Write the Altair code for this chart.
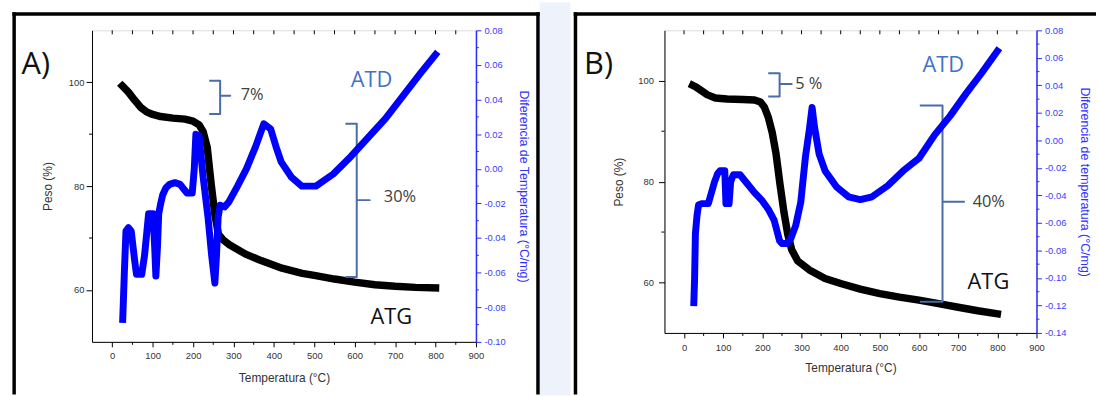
import altair as alt
import pandas as pd

# ---------------- Panel A data ----------------
a_atg_t = [25, 40, 55, 70, 85, 100, 120, 150, 180, 200, 215, 225, 235, 245, 254, 263, 275, 290, 330, 370, 420, 470, 500, 550, 600, 650, 700, 750, 800]
a_atg_w = [99.3, 98.1, 96.6, 95.2, 94.3, 93.8, 93.4, 93.1, 92.9, 92.5, 91.8, 90.5, 87.5, 80.3, 74.5, 70.7, 69.6, 68.7, 66.9, 65.6, 64.2, 63.2, 62.8, 62.1, 61.5, 61.0, 60.7, 60.5, 60.4]
a_atd_t = [26, 30, 34, 40, 47, 55, 60, 73, 80, 90, 101, 105, 108, 112, 115, 120, 125, 133, 142, 155, 168, 178, 185, 198, 203, 207, 215, 225, 237, 246, 254, 258, 262, 267, 278, 289, 310, 332, 355, 375, 392, 405, 418, 444, 469, 504, 547, 590, 633, 676, 719, 762, 800]
a_atd_d = [-0.087, -0.060, -0.036, -0.034, -0.036, -0.052, -0.061, -0.061, -0.050, -0.026, -0.026, -0.045, -0.062, -0.045, -0.026, -0.020, -0.015, -0.011, -0.009, -0.008, -0.009, -0.012, -0.014, -0.014, 0.000, 0.020, 0.019, -0.005, -0.028, -0.050, -0.066, -0.050, -0.028, -0.021, -0.022, -0.019, -0.010, 0.000, 0.013, 0.026, 0.023, 0.013, 0.004, -0.005, -0.010, -0.010, -0.003, 0.007, 0.018, 0.029, 0.042, 0.055, 0.066]

# ---------------- Panel B data ----------------
b_atg_t = [22, 30, 45, 60, 80, 110, 150, 180, 195, 205, 215, 225, 235, 245, 255, 265, 275, 290, 320, 360, 400, 450, 500, 550, 600, 650, 700, 750, 800]
b_atg_w = [99.1, 98.8, 98.0, 97.2, 96.6, 96.4, 96.3, 96.2, 95.8, 94.8, 92.8, 89.8, 85.5, 79.5, 74.0, 69.5, 66.5, 64.3, 62.5, 60.8, 59.8, 58.7, 57.8, 57.1, 56.5, 55.8, 55.1, 54.4, 53.8]
b_atd_t = [25, 27, 29, 33, 37, 45, 55, 62, 70, 78, 86, 92, 104, 107, 115, 119, 126, 143, 160, 180, 200, 215, 230, 244, 250, 262, 272, 285, 298, 310, 320, 327, 333, 345, 360, 390, 420, 450, 480, 520, 560, 600, 640, 680, 720, 760, 800]
b_atd_d = [-0.118, -0.100, -0.068, -0.055, -0.047, -0.046, -0.046, -0.046, -0.038, -0.030, -0.024, -0.022, -0.022, -0.046, -0.046, -0.030, -0.025, -0.025, -0.031, -0.038, -0.044, -0.050, -0.058, -0.073, -0.075, -0.075, -0.072, -0.062, -0.045, -0.012, 0.008, 0.024, 0.010, -0.010, -0.022, -0.034, -0.041, -0.043, -0.041, -0.033, -0.022, -0.013, 0.004, 0.018, 0.034, 0.049, 0.065]

# ---------------- Axis ticks ----------------
x_major = [0, 100, 200, 300, 400, 500, 600, 700, 800, 900]
x_minor = [50, 150, 250, 350, 450, 550, 650, 750, 850]
x_top = [0, 50, 100, 150, 200, 250, 300, 350, 400, 450, 500, 550, 600, 650, 700, 750, 800, 850]
w_major = [60, 80, 100]
w_minor = [70, 90]
a_d_major = [-0.10, -0.08, -0.06, -0.04, -0.02, 0.00, 0.02, 0.04, 0.06, 0.08]
a_d_minor = [-0.09, -0.07, -0.05, -0.03, -0.01, 0.01, 0.03, 0.05, 0.07]
b_d_major = [-0.14, -0.12, -0.10, -0.08, -0.06, -0.04, -0.02, 0.00, 0.02, 0.04, 0.06, 0.08]
b_d_minor = [-0.13, -0.11, -0.09, -0.07, -0.05, -0.03, -0.01, 0.01, 0.03, 0.05, 0.07]

# ---------------- Annotations ----------------
# brace: (vertical x, hook x, tip x, top, bottom, middle)
a_braces = [(267, 240, 292, 100.3, 93.9, 97.4), (605, 577, 637, 92.0, 62.5, 77.3)]
b_braces = [(244, 215, 275, 101.5, 96.9, 99.35), (660, 602, 715, 95.1, 56.2, 76.0)]
a_pct = {"t": [318, 672], "w": [97.5, 77.8], "s": ["7%", "30%"]}
b_pct = {"t": [284, 737], "w": [99.35, 76.0], "s": ["5 %", "40%"]}
a_names = {"t": [590, 639], "w": [100.4, 54.8], "s": ["ATD", "ATG"], "c": ["#4472c4", "#111111"]}
b_names = {"t": [609, 724], "w": [103.2, 60.1], "s": ["ATD", "ATG"], "c": ["#4472c4", "#111111"]}

BLUE = "#0000ff"
AXBLUE = "#2a2aff"
FONT = "Liberation Sans"


def brace_df(braces):
    rows = []
    for g, (xv, xh, xt, yt, yb, ym) in enumerate(braces):
        pts = [(xh, yt), (xv, yt), (xv, ym), (xt, ym), (xv, ym), (xv, yb), (xh, yb)]
        for i, (t, w) in enumerate(pts):
            rows.append({"g": g, "i": i, "t": t, "w": w})
    return pd.DataFrame(rows)


def panel(atg_t, atg_w, atd_t, atd_d, d_dom, d_major, d_minor, d_title, W, H,
          braces, pct, names, letter, letter_x, frame, right_line, gap, pad_axes):
    xs = alt.Scale(domain=[-50, 900], nice=False, zero=False)
    xax = alt.Axis(values=x_major, format="d", title="Temperatura (°C)", grid=False,
                   domainColor="black", tickColor="black", tickSize=5, labelFlush=False,
                   labelFont=FONT, labelFontSize=9.5, labelColor="#333333", labelPadding=pad_axes["xl"],
                   titleFont=FONT, titleFontSize=12, titleFontWeight="normal", titleColor="#333333",
                   titlePadding=pad_axes["xt"])
    X = alt.X("t:Q", scale=xs, axis=xax)
    ws = alt.Scale(domain=[50, 110], nice=False, zero=False)
    wax = alt.Axis(orient="left", values=w_major, title="Peso (%)", grid=False,
                   domainColor="black", tickColor="black", tickSize=6, labelFlush=False,
                   labelFont=FONT, labelFontSize=9.5, labelColor="#333333", labelPadding=pad_axes["yl"],
                   titleFont=FONT, titleFontSize=12, titleFontWeight="normal", titleColor="#333333",
                   titlePadding=pad_axes["yt"])
    Yw = alt.Y("w:Q", scale=ws, axis=wax)
    ds = alt.Scale(domain=d_dom, nice=False, zero=False)
    dax = alt.Axis(orient="right", values=d_major, title=d_title, grid=False,
                   labelExpr="replace(format(datum.value, '.2f'), '\u2212', '-')",
                   domainColor=AXBLUE, domainWidth=1.5, tickColor=AXBLUE, tickSize=5, labelFlush=False,
                   labelFont=FONT, labelFontSize=9.5, labelColor="#3b3bff", labelPadding=3,
                   titleFont=FONT, titleFontSize=12.5, titleFontWeight="normal", titleColor="#3030ff",
                   titlePadding=pad_axes["dt"])
    Yd = alt.Y("v:Q", scale=ds, axis=dax)

    one = pd.DataFrame({"k": [0]})
    layers = []
    # background gap / frame
    if gap is not None:
        layers.append(alt.Chart(one).mark_rect(color=gap[4]).encode(
            x=alt.value(gap[0]), x2=alt.value(gap[1]), y=alt.value(gap[2]), y2=alt.value(gap[3])))
    fl, ft, fr, fb, fw = frame
    layers.append(alt.Chart(one).mark_rule(color="black", strokeWidth=fw).encode(
        x=alt.value(fl), y=alt.value(ft - fw / 2), y2=alt.value(fb)))
    layers.append(alt.Chart(one).mark_rule(color="black", strokeWidth=fw).encode(
        y=alt.value(ft), x=alt.value(fl - fw / 2), x2=alt.value(fr + (fw / 2 if right_line else 0))))
    if right_line:
        layers.append(alt.Chart(one).mark_rule(color="black", strokeWidth=fw).encode(
            x=alt.value(fr), y=alt.value(ft - fw / 2), y2=alt.value(fb)))

    # minor / top ticks
    layers.append(alt.Chart(pd.DataFrame({"t": x_minor})).mark_rule(color="black").encode(
        x=X, y=alt.value(H), y2=alt.value(H + 3)))
    layers.append(alt.Chart(pd.DataFrame({"t": x_top})).mark_rule(color="black").encode(
        x=X, y=alt.value(0), y2=alt.value(4)))
    layers.append(alt.Chart(pd.DataFrame({"w": w_minor})).mark_rule(color="black").encode(
        y=Yw, x=alt.value(0), x2=alt.value(-3)))

    # ATG curve
    df_atg = pd.DataFrame({"t": atg_t, "w": atg_w, "i": range(len(atg_t))})
    layers.append(alt.Chart(df_atg).mark_line(color="black", strokeWidth=7.5, strokeCap="square",
                                              strokeJoin="round").encode(x=X, y=Yw, order="i:Q"))
    # braces
    layers.append(alt.Chart(brace_df(braces)).mark_line(color="#4a6ca8", strokeWidth=2,
                                                        strokeJoin="round").encode(
        x=X, y=Yw, detail="g:N", order="i:Q"))
    # texts
    layers.append(alt.Chart(pd.DataFrame(pct)).mark_text(
        align="left", baseline="middle", font="Open Sans", fontSize=16.5, color="#404040").encode(
        x=X, y=Yw, text="s:N"))
    layers.append(alt.Chart(pd.DataFrame(names)).mark_text(
        align="left", baseline="middle", font="Open Sans", fontSize=22).encode(
        x=X, y=Yw, text="s:N", color=alt.Color("c:N", scale=None)))
    layers.append(alt.Chart(pd.DataFrame({"s": [letter]})).mark_text(
        align="left", baseline="middle", font="Open Sans", fontSize=31, color="#111111").encode(
        x=alt.value(letter_x), y=alt.value(35), text="s:N"))

    left = alt.layer(*layers)

    df_atd = pd.DataFrame({"t": atd_t, "v": atd_d, "i": range(len(atd_t))})
    atd = alt.Chart(df_atd).mark_line(color=BLUE, strokeWidth=7, strokeCap="square",
                                      strokeJoin="round").encode(x=X, y=Yd, order="i:Q")
    dmin = alt.Chart(pd.DataFrame({"v": d_minor})).mark_rule(color=AXBLUE).encode(
        y=Yd, x=alt.value(W), x2=alt.value(W + 3))
    right = alt.layer(dmin, atd)

    return alt.layer(left, right).resolve_scale(y="independent").properties(width=W, height=H)


WA, HA = 387, 314
WB, HB = 375, 305

panelA = panel(a_atg_t, a_atg_w, a_atd_t, a_atd_d, [-0.10, 0.08], a_d_major, a_d_minor,
               "Diferencia de Temperatura (°C/mg)", WA, HA, a_braces, a_pct, a_names, "A)", -71,
               frame=(-78.5, -16.5, 449.5, 367, 3.5), right_line=True,
               gap=(451.25, 482.25, -28, 368, "#eef2fa"),
               pad_axes={"xl": 4, "xt": 12, "yl": 2, "yt": 14, "dt": 11})
panelB = panel(b_atg_t, b_atg_w, b_atd_t, b_atd_d, [-0.14, 0.08], b_d_major, b_d_minor,
               "Diferencia de temperatura (°C/mg)", WB, HB, b_braces, b_pct, b_names, "B)", -81,
               frame=(-89.7, -16.5, 435.0, 367, 3.5), right_line=False,
               gap=(-89.7, 435.0, -28, -19, "#ffffff"),
               pad_axes={"xl": 5, "xt": 10, "yl": 5, "yt": 12, "dt": 12})

chart = alt.hconcat(panelA, panelB, spacing=0).properties(
    padding={"left": 9.75, "top": 0, "right": 0, "bottom": 0}
).configure_view(stroke="black", strokeWidth=1).configure(background="white")

chart.save("out.html", embed_options={"renderer": "svg", "actions": False})
